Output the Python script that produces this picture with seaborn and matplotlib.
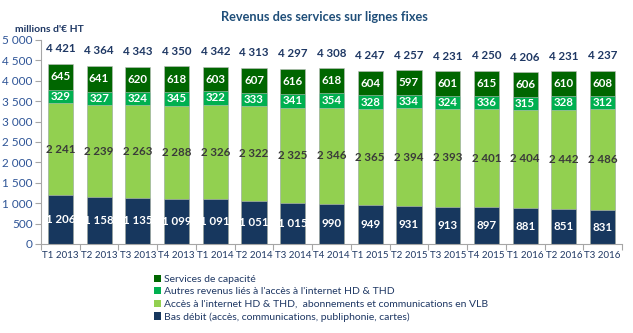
import matplotlib
matplotlib.use("Agg")
import matplotlib.pyplot as plt
from matplotlib.patches import Patch
import numpy as np
import pandas as pd
import seaborn as sns

quarters = ["T1 2013", "T2 2013", "T3 2013", "T4 2013", "T1 2014", "T2 2014",
            "T3 2014", "T4 2014", "T1 2015", "T2 2015", "T3 2015", "T4 2015",
            "T1 2016", "T2 2016", "T3 2016"]
bas_debit = [1206, 1158, 1135, 1099, 1091, 1051, 1015, 990, 949, 931, 913, 897, 881, 851, 831]
acces_hd = [2241, 2239, 2263, 2288, 2326, 2322, 2325, 2346, 2365, 2394, 2393, 2401, 2404, 2442, 2486]
autres_hd = [329, 327, 324, 345, 322, 333, 341, 354, 328, 334, 324, 336, 315, 328, 312]
capacite = [645, 641, 620, 618, 603, 607, 616, 618, 604, 597, 601, 615, 606, 610, 608]
totals = [4421, 4364, 4343, 4350, 4342, 4313, 4297, 4308, 4247, 4257, 4231, 4250, 4206, 4231, 4237]

series_names = [
    "Bas débit (accès, communications, publiphonie, cartes)",
    "Accès à l'internet HD & THD,  abonnements et communications en VLB",
    "Autres revenus liés à l'accès à l'internet HD & THD",
    "Services de capacité",
]
colors = ["#17375E", "#92D050", "#00B050", "#006600"]
label_colors = ["white", "#3A3A3A", "white", "white"]

def fmt(v):
    return f"{v:,}".replace(",", " ")

sns.set_theme(style="white")
plt.rcParams["font.family"] = ["Lato", "DejaVu Sans"]

layers = [np.array(bas_debit), np.array(acces_hd), np.array(autres_hd), np.array(capacite)]
cum = np.cumsum(np.vstack(layers), axis=0)

fig = plt.figure(figsize=(6.33, 3.33), dpi=100)
ax = fig.add_axes([0.0648, 0.2673, 0.9178, 0.6127])

# stacked bars: draw cumulative tops from the highest layer down
for i in range(3, -1, -1):
    d = pd.DataFrame({"quarter": quarters, "val": cum[i]})
    sns.barplot(data=d, x="quarter", y="val", color=colors[i], width=0.65,
                saturation=1, ax=ax, edgecolor="#BFBFBF", linewidth=0.4)

# segment labels
for i in range(4):
    bottoms = cum[i] - layers[i]
    for j, v in enumerate(layers[i]):
        ax.text(j, bottoms[j] + v / 2, fmt(v), ha="center", va="center",
                color=label_colors[i], fontsize=8.3, fontweight="bold")

# totals above bars
for j, t in enumerate(totals):
    ax.text(j, t + 370, fmt(t), ha="center", va="center", color="#1F3864",
            fontsize=8.3, fontweight="bold")

ax.set_ylim(0, 5000)
ax.set_xlim(-0.5, len(quarters) - 0.5)
ax.set_yticks(np.arange(0, 5001, 500))
ax.set_yticklabels([fmt(v) for v in range(0, 5001, 500)], color="#2F5597", fontsize=8.5)
ax.set_xticks(range(len(quarters)))
ax.set_xticklabels(quarters, color="#1F3864", fontsize=7.0)
ax.set_xticks(np.arange(-0.5, len(quarters), 1), minor=True)
ax.tick_params(axis="x", which="major", length=0, pad=5)
ax.tick_params(axis="x", which="minor", length=4, color="#A6A6A6", width=0.8, direction="out", bottom=True)
ax.tick_params(axis="y", length=4, color="#A6A6A6", width=0.8, direction="out", left=True, pad=2)
ax.set_xlabel("")
ax.set_ylabel("")
for s in ["top", "right"]:
    ax.spines[s].set_visible(False)
for s in ["left", "bottom"]:
    ax.spines[s].set_color("#A6A6A6")
    ax.spines[s].set_linewidth(0.8)

fig.text(0.512, 0.95, "Revenus des services sur lignes fixes", ha="center", va="center",
         color="#1F4E79", fontsize=9.2, fontweight="bold")
fig.text(0.024, 0.91, "millions d'€ HT", ha="left", va="center",
         color="#1F3864", fontsize=7.5, fontweight="bold")

handles = [Patch(facecolor=colors[i], edgecolor="none") for i in range(3, -1, -1)]
labels = [series_names[i] for i in range(3, -1, -1)]
leg = fig.legend(handles, labels, loc="upper left", bbox_to_anchor=(0.243, 0.175),
                 frameon=False, fontsize=7.5, handlelength=0.7, handleheight=0.7,
                 handletextpad=0.3, labelspacing=0.3, borderaxespad=0, borderpad=0)
for t in leg.get_texts():
    t.set_color("#1F3864")

fig.savefig("out.png", dpi=100)
